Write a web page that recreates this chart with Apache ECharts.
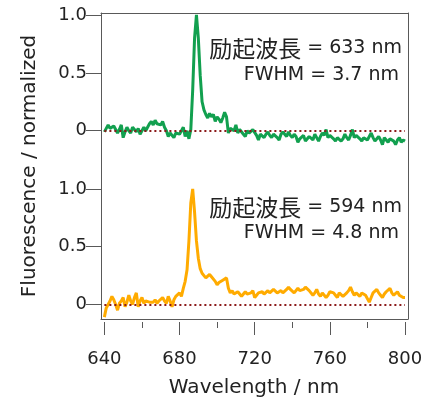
<!DOCTYPE html>
<html>
<head>
<meta charset="utf-8">
<script src="https://cdn.jsdelivr.net/npm/echarts@6/dist/echarts.min.js"></script>
<style>html,body{margin:0;padding:0;background:#fff;}#c{width:429px;height:399px;}</style>
</head>
<body>
<div id="c"></div>
<script>
// ---- data ----
const wavelengthStart = 640;
const wavelengthStep = 1;
// Fluorescence, excitation 633 nm (green), 640..800 nm, 1 nm step
const fluor633 = [
 -0.01,0.02,0.05,0.02,0.01,0.04,0.03,-0.02,0.01,0.05,
 -0.06,-0.01,0.03,0.00,-0.02,0.03,0.01,-0.01,0.02,-0.03,
 0.00,0.03,0.00,0.01,0.06,0.08,0.05,0.09,0.06,0.07,
 0.05,0.08,0.03,0.00,-0.05,-0.02,-0.01,-0.06,-0.02,-0.01,
 -0.03,0.00,0.03,-0.05,0.00,-0.07,0.01,0.35,0.80,1.00,
 0.80,0.48,0.25,0.18,0.14,0.11,0.15,0.12,0.14,0.08,
 0.12,0.10,0.07,0.11,0.16,0.12,-0.02,0.02,0.03,0.00,
 0.05,-0.02,0.01,0.01,-0.03,-0.05,0.00,-0.02,-0.03,0.01,
 0.00,-0.04,-0.08,-0.03,-0.02,-0.06,-0.03,-0.01,-0.04,-0.06,
 -0.03,-0.02,-0.06,-0.08,-0.03,-0.01,-0.03,-0.05,-0.01,-0.04,
 -0.06,-0.03,-0.05,-0.10,-0.07,-0.06,-0.04,-0.09,-0.07,-0.05,
 -0.06,-0.08,-0.03,-0.06,-0.09,-0.05,-0.02,-0.04,0.01,-0.06,
 -0.04,-0.03,-0.07,-0.09,-0.06,-0.05,-0.09,-0.07,-0.03,-0.06,
 -0.08,-0.04,0.01,-0.06,-0.04,-0.03,-0.07,-0.09,-0.06,-0.05,
 -0.08,-0.05,-0.02,-0.06,-0.09,-0.07,-0.05,-0.08,-0.12,-0.06,
 -0.08,-0.10,-0.07,-0.06,-0.09,-0.12,-0.08,-0.06,-0.10,-0.08,
 -0.09
];
// Fluorescence, excitation 594 nm (orange), 640..800 nm, 1 nm step
const fluor594 = [
 -0.11,-0.03,-0.02,0.03,0.07,0.04,0.00,-0.05,0.01,0.03,
 0.06,-0.02,0.02,0.08,0.03,0.00,0.06,0.10,-0.02,0.03,
 0.06,0.01,0.03,0.04,0.02,0.01,0.02,0.04,0.01,0.03,
 0.04,0.06,0.03,0.01,0.07,0.03,-0.02,0.04,0.07,0.08,
 0.10,0.07,0.14,0.20,0.30,0.55,0.88,1.00,0.80,0.55,
 0.40,0.31,0.27,0.25,0.23,0.24,0.26,0.24,0.24,0.20,
 0.17,0.19,0.20,0.21,0.22,0.23,0.14,0.10,0.12,0.09,
 0.08,0.11,0.09,0.07,0.09,0.11,0.09,0.08,0.10,0.12,
 0.06,0.08,0.10,0.09,0.11,0.09,0.08,0.12,0.10,0.11,
 0.13,0.14,0.10,0.11,0.12,0.10,0.11,0.13,0.15,0.13,
 0.12,0.10,0.11,0.14,0.12,0.11,0.13,0.15,0.14,0.12,
 0.11,0.08,0.10,0.13,0.09,0.07,0.10,0.09,0.06,0.08,
 0.11,0.12,0.10,0.08,0.06,0.10,0.11,0.07,0.08,0.10,
 0.12,0.15,0.11,0.08,0.10,0.09,0.07,0.10,0.11,0.08,
 0.07,0.02,0.06,0.10,0.11,0.13,0.10,0.08,0.06,0.09,
 0.11,0.12,0.14,0.10,0.08,0.09,0.11,0.08,0.07,0.06,
 0.06
];
const xMajorTicks = [640, 680, 720, 760, 800];
const xMinorTicks = [660, 700, 740, 780];
const yTicks = [0, 0.5, 1.0];
const label633 = ['励起波長', ' = 633 nm', 'FWHM = 3.7 nm'];
const label594 = ['励起波長', ' = 594 nm', 'FWHM = 4.8 nm'];
const xTitle = 'Wavelength / nm';
const yTitle = 'Fluorescence / normalized';

// ---- build ----
const toPairs = arr => arr.map((v, i) => [wavelengthStart + i * wavelengthStep, v]);
const LAT = '"DejaVu Sans", "Noto Sans CJK JP", sans-serif';
const CJK = '"Noto Sans CJK JP", sans-serif';
const AX = '#595959';
const TXT = '#222';
const XMIN = 638.2, XMAX = 801.6;
const yFmt = v => (v === 0 ? '0' : v.toFixed(1));

const chart = echarts.init(document.getElementById('c'), null, {renderer: 'canvas'});
const hiddenX = i => ({type: 'value', gridIndex: i, min: XMIN, max: XMAX, show: false});
const frameX = (pos) => ({type: 'value', gridIndex: 0, min: XMIN, max: XMAX, position: pos,
  axisLine: {show: true, onZero: false, lineStyle: {color: AX, width: 1}}, axisTick: {show: false}, axisLabel: {show: false}, splitLine: {show: false}});
const frameY = (pos) => ({type: 'value', gridIndex: 0, min: 0, max: 1, position: pos,
  axisLine: {show: true, onZero: false, lineStyle: {color: AX, width: 1}}, axisTick: {show: false}, axisLabel: {show: false}, splitLine: {show: false}});
const dataY = (i, min, max) => ({
  type: 'value', gridIndex: i, min: min, max: max,
  axisLine: {show: false},
  splitLine: {show: false},
  axisTick: {show: true, customValues: yTicks, length: 15, lineStyle: {color: AX, width: 1}},
  axisLabel: {customValues: yTicks, formatter: yFmt, margin: 14, fontSize: 18, fontFamily: LAT, color: TXT}
});
const zeroLine = {
  silent: true, symbol: 'none', label: {show: false},
  lineStyle: {type: [2, 3], color: '#8b1a1a', width: 2},
  data: [[{coord: [640, 0]}, {coord: [800, 0]}]]
};
const annot = (x, y, parts) => ({
  type: 'text', x: x, y: y,
  style: {
    text: '{c|' + parts[0] + '}{l|' + parts[1] + '}',
    textAlign: 'right', textVerticalAlign: 'middle', fill: TXT,
    rich: {c: {fontSize: 23, fontFamily: CJK, fill: TXT}, l: {fontSize: 19, fontFamily: LAT, fill: TXT}}
  }
});
const plainText = (x, y, s, size, extra) => Object.assign({
  type: 'text', x: x, y: y,
  style: {text: s, textAlign: 'right', textVerticalAlign: 'middle', font: size + 'px ' + LAT, fill: TXT}
}, extra || {});

chart.setOption({
  animation: false,
  grid: [
    {left: 101, top: 13, width: 307, height: 306, outerBoundsMode: 'none', containLabel: false},
    {left: 101, top: 13, width: 307, height: 147, outerBoundsMode: 'none', containLabel: false},
    {left: 101, top: 160, width: 307, height: 159, outerBoundsMode: 'none', containLabel: false}
  ],
  xAxis: [
    frameX('bottom'),
    frameX('top'),
    {type: 'value', gridIndex: 0, min: XMIN, max: XMAX, position: 'bottom', offset: 3,
     axisLine: {show: false, onZero: false}, splitLine: {show: false},
     axisTick: {customValues: xMajorTicks, length: 13, lineStyle: {color: AX, width: 1}},
     axisLabel: {customValues: xMajorTicks, margin: 28, fontSize: 18, fontFamily: LAT, color: TXT}},
    {type: 'value', gridIndex: 0, min: XMIN, max: XMAX, position: 'bottom', offset: 3,
     axisLine: {show: false, onZero: false}, splitLine: {show: false},
     axisTick: {customValues: xMinorTicks, length: 6, lineStyle: {color: AX, width: 1}},
     axisLabel: {show: false}},
    hiddenX(1), hiddenX(2)
  ],
  yAxis: [
    frameY('left'),
    frameY('right'),
    dataY(1, -0.253, 1.017),
    dataY(2, -0.126, 1.251)
  ],
  series: [
    {type: 'line', xAxisIndex: 4, yAxisIndex: 2, data: toPairs(fluor633), showSymbol: false,
     lineStyle: {color: '#12a04f', width: 3}, itemStyle: {color: '#12a04f'}, markLine: zeroLine, z: 2},
    {type: 'line', xAxisIndex: 5, yAxisIndex: 3, data: toPairs(fluor594), showSymbol: false,
     lineStyle: {color: '#ffab00', width: 3}, itemStyle: {color: '#ffab00'}, markLine: zeroLine, z: 2}
  ],
  graphic: [
    annot(402, 48, label633), plainText(399, 75, label633[2], 19),
    annot(402, 207, label594), plainText(399, 233, label594[2], 19),
    {type: 'text', x: 254, y: 388,
     style: {text: xTitle, textAlign: 'center', textVerticalAlign: 'middle', font: '20px ' + LAT, fill: TXT}},
    {type: 'text', x: 30, y: 166, rotation: Math.PI / 2,
     style: {text: yTitle, textAlign: 'center', textVerticalAlign: 'middle', font: '20px ' + LAT, fill: TXT}}
  ]
});
</script>
</body>
</html>
